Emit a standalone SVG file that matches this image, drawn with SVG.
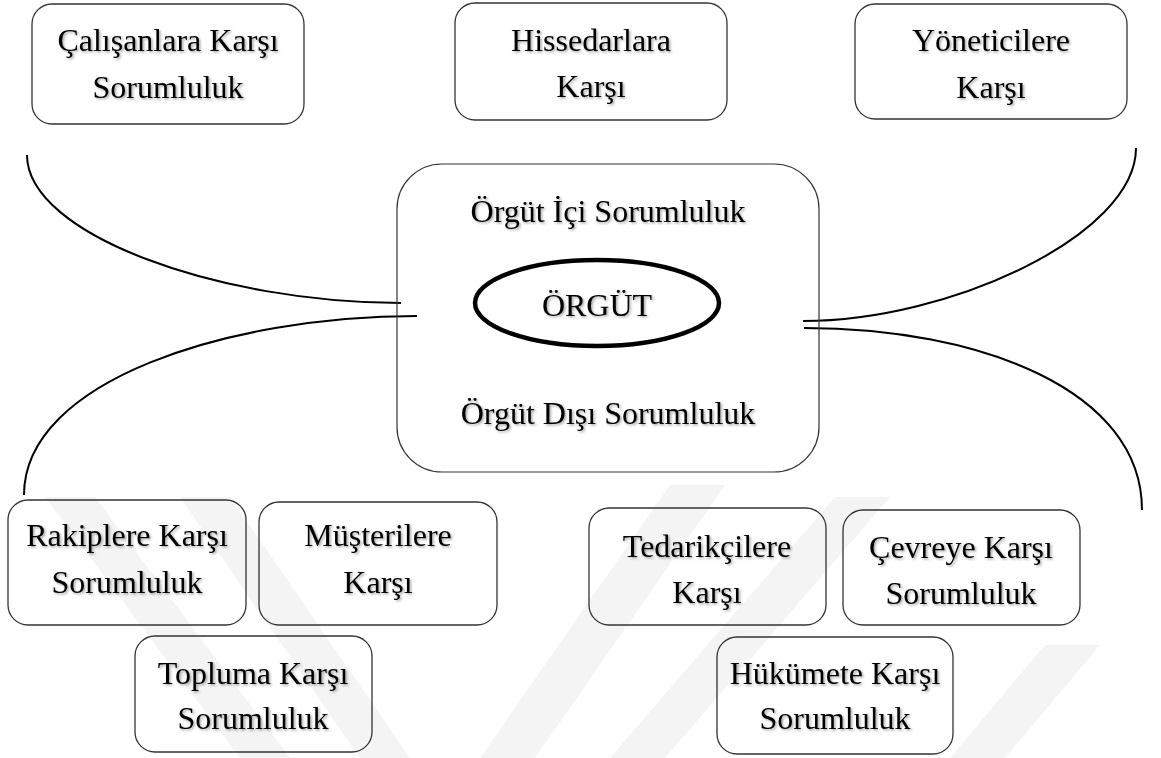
<svg xmlns="http://www.w3.org/2000/svg" width="1161" height="758" viewBox="0 0 1161 758">
  <defs>
    <filter id="txtShadow" x="-10%" y="-30%" width="120%" height="160%">
      <feDropShadow dx="1.5" dy="1.5" stdDeviation="1" flood-color="#000" flood-opacity="0.35"/>
    </filter>
  </defs>
  <style>
    .box { fill: none; stroke: #333; stroke-width: 1.3; }
    .core { fill: none; stroke: #333; stroke-width: 1.2; }
    .org { fill: none; stroke: #000; stroke-width: 4.5; }
    .link { fill: none; stroke: #000; stroke-width: 2; }
    .mark { fill: #f4f4f4; }
    text { font-family: "Liberation Serif", "Times New Roman", serif; font-size: 32px; fill: #000; text-anchor: middle; filter: url(#txtShadow); }
  </style>
  <rect width="1161" height="758" fill="#fff"/>

  <!-- faint background emblem -->
  <g id="emblem">
    <polygon class="mark" points="45,497 95,497 290,758 240,758"/>
    <polygon class="mark" points="180,497 230,497 410,758 360,758"/>
    <polygon class="mark" points="480,758 535,758 725,485 670,485"/>
    <polygon class="mark" points="610,758 665,758 890,497 835,497"/>
    <polygon class="mark" points="950,758 1005,758 1100,645 1045,645"/>
  </g>

  <!-- curved links from the central box to the stakeholder groups -->
  <g id="connectors">
    <path class="link" d="M27,155 C27,235 220,303 401,303"/>
    <path class="link" d="M417,316 C230,316 24,380 24,495"/>
    <path class="link" d="M1136,148 C1136,235 950,321 803,321"/>
    <path class="link" d="M804,328 C980,328 1142,390 1142,510"/>
  </g>

  <!-- internal stakeholders -->
  <g id="calisanlar">
    <rect class="box" x="32" y="4" width="272" height="120" rx="20"/>
    <text x="168" y="51">Çalışanlara Karşı</text>
    <text x="168" y="98">Sorumluluk</text>
  </g>
  <g id="hissedarlar">
    <rect class="box" x="455" y="3" width="272" height="117" rx="20"/>
    <text x="591" y="51">Hissedarlara</text>
    <text x="591" y="97">Karşı</text>
  </g>
  <g id="yoneticiler">
    <rect class="box" x="855" y="4" width="272" height="115" rx="20"/>
    <text x="991" y="51">Yöneticilere</text>
    <text x="991" y="98">Karşı</text>
  </g>

  <!-- organisation -->
  <g id="orgut">
    <rect class="core" x="397" y="164" width="422" height="308" rx="45"/>
    <text x="608" y="222">Örgüt İçi Sorumluluk</text>
    <ellipse class="org" cx="597" cy="303" rx="122" ry="43"/>
    <text x="597" y="316">ÖRGÜT</text>
    <text x="608" y="424">Örgüt Dışı Sorumluluk</text>
  </g>

  <!-- external stakeholders -->
  <g id="rakipler">
    <rect class="box" x="8" y="500" width="238" height="125" rx="20"/>
    <text x="127" y="546">Rakiplere Karşı</text>
    <text x="127" y="593">Sorumluluk</text>
  </g>
  <g id="musteriler">
    <rect class="box" x="259" y="502" width="238" height="123" rx="20"/>
    <text x="378" y="546">Müşterilere</text>
    <text x="378" y="593">Karşı</text>
  </g>
  <g id="tedarikciler">
    <rect class="box" x="589" y="508" width="237" height="117" rx="20"/>
    <text x="707" y="557">Tedarikçilere</text>
    <text x="707" y="603">Karşı</text>
  </g>
  <g id="cevre">
    <rect class="box" x="843" y="510" width="237" height="115" rx="20"/>
    <text x="961" y="558">Çevreye Karşı</text>
    <text x="961" y="604">Sorumluluk</text>
  </g>
  <g id="toplum">
    <rect class="box" x="135" y="636" width="237" height="116" rx="20"/>
    <text x="253" y="684">Topluma Karşı</text>
    <text x="253" y="729">Sorumluluk</text>
  </g>
  <g id="hukumet">
    <rect class="box" x="717" y="637" width="236" height="117" rx="20"/>
    <text x="835" y="684">Hükümete Karşı</text>
    <text x="835" y="729">Sorumluluk</text>
  </g>
</svg>
